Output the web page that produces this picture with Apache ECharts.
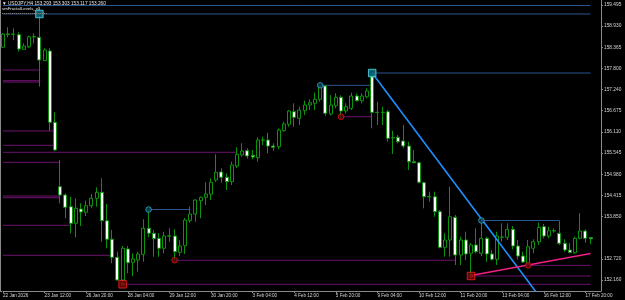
<!DOCTYPE html>
<html><head><meta charset="utf-8">
<script src="https://cdn.jsdelivr.net/npm/echarts@6/dist/echarts.min.js"></script>
<style>html,body{margin:0;padding:0;background:#000}#c{width:625px;height:300px}</style>
</head><body><div id="c"></div>
<script>
const opens = [158.367,158.721,158.713,158.703,158.313,158.383,158.641,158.633,158.009,158.268,
156.367,154.649,154.428,154.116,153.673,154.055,153.967,154.143,154.340,154.500,
153.743,153.247,152.767,152.161,152.988,152.633,152.695,152.847,153.540,153.407,
153.273,153.007,153.327,153.335,152.900,153.076,153.743,153.921,154.276,154.367,
154.447,154.828,155.041,154.900,154.783,155.201,155.495,155.609,155.487,155.423,
155.887,155.895,155.735,155.716,156.143,156.313,156.649,156.473,156.676,156.828,
156.873,156.980,157.335,156.588,156.809,157.033,156.668,156.740,157.068,156.943,
157.049,157.583,156.633,156.625,156.649,155.948,155.967,155.868,155.735,155.316,
155.289,154.756,154.375,154.383,153.983,153.033,153.228,153.833,152.828,153.228,
152.873,153.095,152.873,153.273,152.855,152.713,153.300,153.300,153.513,153.068,
152.801,152.607,153.007,153.183,153.583,153.335,153.468,153.407,153.140,152.961,
152.889,153.273,153.468,153.293];
const closes = [158.721,158.705,158.721,158.321,158.401,158.649,158.655,158.028,158.295,156.367,
155.628,154.428,154.100,153.673,154.073,153.975,154.143,154.340,154.500,153.743,
153.247,152.767,152.161,153.007,152.623,152.721,152.855,153.540,153.407,153.263,
153.007,153.335,153.343,152.916,153.068,153.761,153.921,154.295,154.367,154.455,
154.767,155.033,154.900,154.783,155.228,155.513,155.601,155.468,155.441,155.895,
155.895,155.735,155.700,156.161,156.321,156.668,156.500,156.695,156.828,156.889,
156.980,157.308,156.607,156.828,157.033,156.668,156.783,157.068,156.943,157.068,
157.201,156.633,156.625,156.633,155.940,155.961,155.849,155.735,155.316,155.289,
154.767,154.383,154.388,153.983,153.033,153.228,153.849,152.828,153.228,152.855,
153.095,152.916,153.273,152.855,152.713,153.335,153.308,153.513,153.068,152.801,
152.641,153.049,153.183,153.567,153.335,153.476,153.481,153.140,152.961,152.895,
153.273,153.468,153.273,153.260];
const lows = [158.348,158.633,158.561,158.249,158.308,158.348,158.473,157.316,158.001,156.143,
155.609,154.207,153.807,153.407,153.300,153.601,153.868,154.073,154.116,153.183,
153.007,152.607,152.148,152.047,152.340,152.268,152.383,152.649,153.300,152.783,
152.783,152.873,153.183,152.687,152.801,152.855,153.689,153.716,153.807,154.161,
154.295,154.775,154.756,154.561,154.695,155.148,155.449,155.396,155.380,155.316,
155.761,155.540,155.609,155.647,156.116,156.249,156.249,156.295,156.561,156.695,
156.695,156.916,156.540,156.550,156.740,156.516,156.607,156.695,156.916,156.873,
157.007,156.207,156.295,156.295,155.849,155.521,155.807,155.673,155.095,155.273,
154.740,154.073,154.249,153.849,153.007,152.783,152.783,152.561,152.561,152.695,
152.268,152.873,152.801,152.649,152.676,152.561,153.183,153.228,152.980,152.713,
152.615,152.551,152.873,153.095,153.273,153.273,153.423,153.095,152.916,152.873,
152.855,153.247,153.156,153.117];
const highs = [158.748,158.900,158.873,158.767,158.473,158.676,158.740,159.255,158.340,158.340,
156.633,155.361,154.473,154.383,154.340,154.207,154.276,154.455,154.633,154.873,
154.188,153.495,152.916,153.068,153.068,152.873,152.916,153.780,154.041,153.495,
153.407,153.449,153.540,153.513,153.220,153.815,154.116,154.313,154.383,154.767,
154.873,155.513,155.140,155.007,155.316,155.700,155.807,155.673,155.628,155.967,
155.983,156.089,155.807,156.207,156.383,156.695,156.873,156.783,156.943,156.980,
157.156,157.353,157.340,157.095,157.140,157.087,156.873,157.156,157.140,157.140,
157.273,157.681,156.916,156.783,156.695,156.143,156.028,156.295,155.849,155.628,
155.316,154.783,154.516,154.516,154.028,153.407,154.649,153.895,153.316,153.449,
153.148,153.540,153.748,153.316,152.961,153.449,153.673,153.673,153.601,153.228,
152.916,153.228,153.247,153.689,153.655,153.583,153.540,153.740,153.247,153.140,
153.316,153.940,153.513,153.303];
const timeLabels = ['22 Jan 2026','23 Jan 12:00','26 Jan 20:00','28 Jan 04:00','29 Jan 12:00','30 Jan 20:00','3 Feb 04:00','4 Feb 12:00','5 Feb 20:00','9 Feb 04:00','10 Feb 12:00','11 Feb 20:00','13 Feb 04:00','16 Feb 12:00','17 Feb 20:00'];
const priceTicks = [159.495,158.930,158.365,157.800,157.240,156.675,156.110,155.545,154.980,154.415,153.850,152.720,152.160];
const lastPrice = 153.260;
const headerText = '\u25BC USDJPY,H4 153.293 153.303 153.117 153.260';
const indicatorName = 'smFractalLevels_v3';
// [fromBar, toBar, price]
const highLevels = [[0,113,159.481],[0,113,159.255],[28,36,154.041],[61,71,157.353],[71,113,157.681],[92,107,153.748]];
const lowLevels = [[0,7,157.761],[0,7,157.476],[0,7,157.441],[0,10,156.135],[0,10,155.753],[0,45,155.567],[0,11,155.300],[0,11,154.401],[0,11,154.356],[0,13,153.620],[0,21,152.820],[23,113,152.047],[33,87,152.687],[65,71,156.516],[90,113,152.268],[101,113,152.551]];
const upFractalMajor = [[7,159.255],[71,157.681]];
const upFractalMinor = [[28,154.041],[61,157.353],[92,153.748]];
const downFractalMajor = [[23,152.047],[90,152.268]];
const downFractalMinor = [[33,152.687],[65,156.516],[101,152.551]];
const trendDown = [[71,157.681],[113,149.899]];
const trendUp = [[90,152.28],[113,152.87]];

const nBars = opens.length;
const categories = [];
for (let i = 0; i < nBars + 2; i++) categories.push(String(i));
const candles = opens.map((o, i) => [o, closes[i], lows[i], highs[i]]);

const GREEN = '#0c930c';
const AXIS = '#8a8a8a';
const TXT = '#d6d6d6';
const FONT = '"Liberation Sans", Arial, sans-serif';

const series = [];
highLevels.forEach(l => series.push({type:'line', data:[[l[0], l[2]],[l[1], l[2]]], symbol:'none', silent:true, z:1, animation:false, lineStyle:{color:'#2b5592', width:1}}));
lowLevels.forEach(l => series.push({type:'line', data:[[l[0], l[2]],[l[1], l[2]]], symbol:'none', silent:true, z:1, animation:false, lineStyle:{color:'#6e126e', width:1}}));
series.push({
  type:'candlestick', data:candles, barWidth:3.5, clip:false, z:3, animation:false,
  itemStyle:{color:'#000000', color0:'#ffffff', borderColor:GREEN, borderColor0:GREEN, borderColorDoji:GREEN, borderWidth:1},
  markLine:{silent:true, symbol:['none','none'], animation:false,
    lineStyle:{opacity:0, width:0},
    label:{show:true, position:'end', distance:2, formatter:lastPrice.toFixed(3), backgroundColor:'#ffffff', color:'#000', fontSize:4.8, fontFamily:FONT, padding:[1,1.5,0.5,1.5]},
    data:[{yAxis:lastPrice}]}
});
series.push({type:'line', data:trendDown, symbol:'none', silent:true, z:4, animation:false, lineStyle:{color:'#1e8fff', width:1.6}});
series.push({type:'line', data:trendUp, symbol:'none', silent:true, z:4, animation:false, lineStyle:{color:'#ef1f84', width:1.6}});
series.push({type:'scatter', data:upFractalMajor, symbol:'rect', symbolSize:7.5, z:6, silent:true, animation:false, itemStyle:{color:'#147e8c', borderColor:'#52dcec', borderWidth:1}});
series.push({type:'scatter', data:upFractalMajor, symbol:'circle', symbolSize:3, z:7, silent:true, animation:false, itemStyle:{color:'rgba(0,0,0,0)', borderColor:'#0a3c46', borderWidth:0.8}});
series.push({type:'scatter', data:upFractalMinor, symbol:'circle', symbolSize:5.6, z:6, silent:true, animation:false, itemStyle:{color:'#0d3f4f', borderColor:'#2eaccc', borderWidth:1}});
series.push({type:'scatter', data:downFractalMajor, symbol:'rect', symbolSize:7.5, z:6, silent:true, animation:false, itemStyle:{color:'#6a0808', borderColor:'#ff2222', borderWidth:1}});
series.push({type:'scatter', data:downFractalMajor, symbol:'circle', symbolSize:3, z:7, silent:true, animation:false, itemStyle:{color:'rgba(0,0,0,0)', borderColor:'#d01818', borderWidth:0.8}});
series.push({type:'scatter', data:downFractalMinor, symbol:'circle', symbolSize:5.6, z:6, silent:true, animation:false, itemStyle:{color:'#5a0606', borderColor:'#dd1818', borderWidth:1}});

const chart = echarts.init(document.getElementById('c'), null, {renderer:'canvas'});
chart.setOption({
  backgroundColor:'#000000',
  animation:false,
  grid:{left:1.7, right:24, top:0, bottom:9},
  xAxis:{type:'category', data:categories, boundaryGap:false,
    axisLine:{show:true, lineStyle:{color:AXIS, width:1}},
    axisTick:{show:true, interval:7, length:2, lineStyle:{color:AXIS}},
    axisLabel:{interval:7, align:'left', margin:2, fontSize:4.6, fontFamily:FONT, color:TXT,
      formatter:(v, i) => (i % 8 === 0 && timeLabels[i/8]) ? timeLabels[i/8] : ''},
    splitLine:{show:false}},
  yAxis:{type:'value', position:'right', min:151.868, max:159.628, scale:true,
    axisLine:{show:true, lineStyle:{color:AXIS, width:1}},
    axisTick:{show:true, length:2, customValues:priceTicks, lineStyle:{color:AXIS}},
    axisLabel:{customValues:priceTicks, margin:3, fontSize:4.8, fontFamily:FONT, color:TXT, formatter:v => v.toFixed(3)},
    splitLine:{show:false}},
  graphic:[
    {type:'line', shape:{x1:0.5, y1:0, x2:0.5, y2:291}, style:{stroke:AXIS, lineWidth:1}, z:10},
    {type:'line', shape:{x1:0, y1:291.5, x2:2, y2:291.5}, style:{stroke:AXIS, lineWidth:1}, z:10},
    {type:'text', x:2, y:4, style:{text:headerText, fill:'#e6e6e6', font:'4.7px ' + FONT, textVerticalAlign:'middle'}, z:10},
    {type:'text', x:2, y:9.3, style:{text:indicatorName, fill:'#e6e6e6', font:'4.3px ' + FONT, textVerticalAlign:'middle'}, z:10},
    {type:'line', shape:{x1:2, y1:13.5, x2:47, y2:13.5}, style:{stroke:'#7a7a7a', lineWidth:1.2, lineDash:[1.2,0.8]}, z:10}
  ],
  series:series
});
</script></body></html>
